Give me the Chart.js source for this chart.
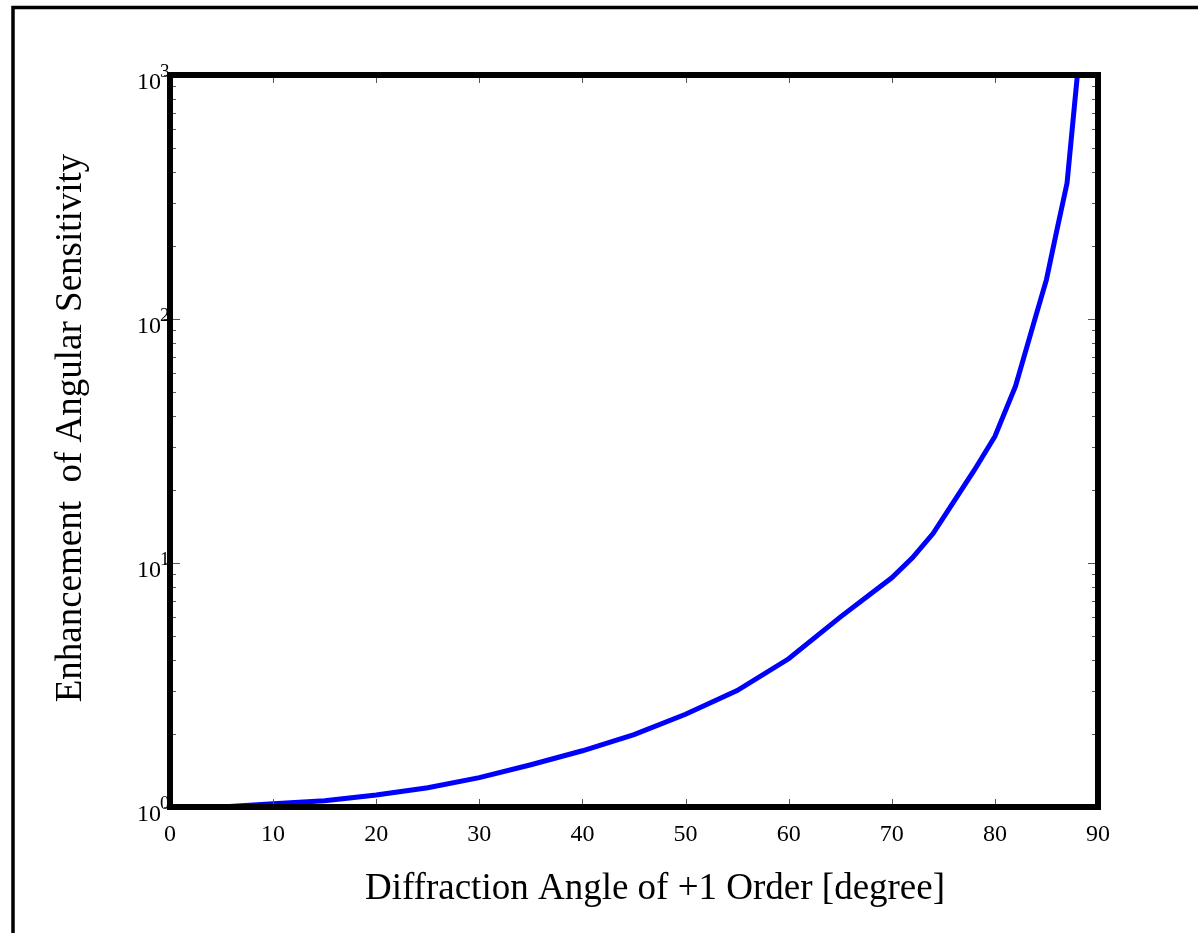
<!DOCTYPE html>
<html lang="en">
<head>
    <meta charset="UTF-8">
    <title>Enhancement of Angular Sensitivity</title>
    <script src="https://cdn.jsdelivr.net/npm/chart.js"></script>
    <style>
        body { margin: 0; background: #fff; }
        #wrap { width: 1198px; height: 933px; position: relative; }
    </style>
</head>
<body>
<div id="wrap"><canvas id="sensChart"></canvas></div>

<script>
    // values
    const angles = [0, 5, 10, 15, 20, 25, 30, 35, 40, 45, 50, 55, 60, 65, 68, 70, 72, 74, 76, 78, 80, 82, 84, 85, 86, 87, 88];
    const enhancement = [1.00, 1.00, 1.03, 1.06, 1.12, 1.20, 1.32, 1.49, 1.70, 1.98, 2.40, 3.0, 4.05, 6.0, 7.5, 8.7, 10.5, 13.2, 17.8, 24, 33, 53, 104, 145, 230, 361, 1000];
    const xTicks = [0, 10, 20, 30, 40, 50, 60, 70, 80, 90];
    const yDecades = [0, 1, 2, 3];

    const xTitle = "Diffraction Angle of +1 Order [degree]";
    const yTitle = "Enhancement  of Angular Sensitivity";
    const FONT = '"Liberation Serif", "Times New Roman", serif';

    // frame, inward ticks, tick labels and axis titles
    const framePlugin = {
        id: 'frame',
        beforeDraw(chart) {
            const c = chart.ctx;
            c.save();
            c.fillStyle = '#fff';
            c.fillRect(0, 0, chart.width, chart.height);
            // outer page border (left and top)
            c.strokeStyle = '#000';
            c.lineWidth = 3.5;
            c.beginPath();
            c.moveTo(chart.width, 7.5);
            c.lineTo(13, 7.5);
            c.lineTo(13, chart.height);
            c.stroke();
            c.restore();
        },
        afterDraw(chart) {
            const c = chart.ctx;
            const a = chart.chartArea;
            const xs = chart.scales.x, ys = chart.scales.y;
            c.save();

            // tick marks
            c.strokeStyle = '#555';
            c.lineWidth = 1;
            c.beginPath();
            xTicks.forEach(v => {
                const px = Math.round(xs.getPixelForValue(v)) + 0.5;
                c.moveTo(px, a.bottom); c.lineTo(px, a.bottom - 8);
                c.moveTo(px, a.top); c.lineTo(px, a.top + 8);
            });
            for (let d = 0; d < 3; d++) {
                for (let m = 1; m <= 10; m++) {
                    const v = m * Math.pow(10, d);
                    const py = Math.round(ys.getPixelForValue(v)) + 0.5;
                    const len = (m === 1 || m === 10) ? 10 : 6;
                    c.moveTo(a.right, py); c.lineTo(a.right - len, py);
                    c.moveTo(a.left, py); c.lineTo(a.left + len, py);
                    if (m === 1 || m === 10) { c.moveTo(a.left, py); c.lineTo(a.left - 6, py); }
                }
            }
            c.stroke();

            // plot frame
            c.strokeStyle = '#000';
            c.lineWidth = 6;
            c.strokeRect(a.left, a.top, a.right - a.left, a.bottom - a.top);

            // x tick labels
            c.fillStyle = '#000';
            c.font = '24px ' + FONT;
            c.textAlign = 'center';
            c.textBaseline = 'alphabetic';
            xTicks.forEach(v => {
                c.fillText(String(v), xs.getPixelForValue(v), 841);
            });

            // y tick labels 10^n
            yDecades.forEach(n => {
                const py = ys.getPixelForValue(Math.pow(10, n));
                c.font = '24px ' + FONT;
                c.textAlign = 'right';
                c.fillText('10', 161, py + 14);
                c.font = '19px ' + FONT;
                c.textAlign = 'left';
                c.fillText(String(n), 160, py + 2);
            });

            // axis titles
            c.font = '37px ' + FONT;
            c.textAlign = 'center';
            c.fillText(xTitle, 655, 899);
            c.translate(81, 428);
            c.rotate(-Math.PI / 2);
            c.fillText(yTitle, 0, 0);
            c.restore();
        }
    };

    const ctx = document.getElementById('sensChart').getContext('2d');
    new Chart(ctx, {
        type: 'line',
        data: {
            datasets: [{
                data: angles.map((a, i) => ({ x: a, y: enhancement[i] })),
                borderColor: '#0000ff',
                borderWidth: 5,
                pointRadius: 0,
                tension: 0,
                fill: false
            }]
        },
        options: {
            responsive: true,
            maintainAspectRatio: false,
            animation: false,
            layout: { padding: { left: 170, top: 75, right: 100, bottom: 126 } },
            plugins: { legend: { display: false }, tooltip: { enabled: false } },
            scales: {
                x: {
                    type: 'linear', min: 0, max: 90,
                    ticks: { display: false },
                    grid: { display: false },
                    border: { display: false },
                    afterFit: s => { s.height = 0; }
                },
                y: {
                    type: 'logarithmic', min: 1, max: 1000,
                    ticks: { display: false },
                    grid: { display: false },
                    border: { display: false },
                    afterFit: s => { s.width = 0; }
                }
            }
        },
        plugins: [framePlugin]
    });
</script>
</body>
</html>
